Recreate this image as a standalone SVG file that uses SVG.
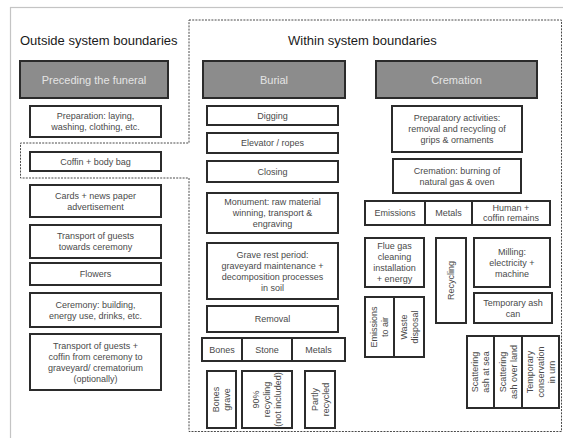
<svg xmlns="http://www.w3.org/2000/svg" width="563" height="438" viewBox="0 0 563 438">
<style>
text{font-family:"Liberation Sans",Arial,sans-serif;}
.t{font-size:9px;fill:#4a4a4a;text-anchor:middle;}
.h{font-size:11px;fill:#e4e4e4;text-anchor:middle;}
.title{font-size:13px;fill:#1a1a1a;}
.b{fill:#fff;stroke:#2b2b2b;stroke-width:2;}
.g{fill:#8c8c8c;stroke:#2b2b2b;stroke-width:2;}
.d{stroke:#2b2b2b;stroke-width:2;}
.frame{fill:none;stroke:#c4c4c4;stroke-width:1.2;}
.dash{fill:none;stroke:#4a4a4a;stroke-width:1;stroke-dasharray:2 1.2;}
</style>
<rect width="563" height="438" fill="#fff"/>
<rect class="frame" x="10.5" y="7.5" width="560" height="440"/>
<g id="boundaries">
<path class="dash" d="M189,20 H561.5 V431.5 H189 V178 H20.5 V143 H189 Z"/>
<text class="title" x="20" y="45">Outside system boundaries</text>
<text class="title" x="288" y="45">Within system boundaries</text>
</g>
<g id="connectors"></g>
<!-- Outside column -->
<g id="preceding"><rect class="g" x="20" y="61" width="148" height="37"/><text class="h" x="94" y="83.5">Preceding the funeral</text></g>
<g id="preparation"><rect class="b" x="30" y="106" width="131" height="31"/><text class="t" x="95.5" y="119">Preparation: laying,</text><text class="t" x="95.5" y="130">washing, clothing, etc.</text></g>
<g id="coffin"><rect class="b" x="30" y="152" width="131" height="19"/><text class="t" x="95.5" y="164.7">Coffin + body bag</text></g>
<g id="cards"><rect class="b" x="30" y="185" width="131" height="32"/><text class="t" x="95.5" y="198.7">Cards + news paper</text><text class="t" x="95.5" y="209.7">advertisement</text></g>
<g id="transport1"><rect class="b" x="30" y="225" width="131" height="33"/><text class="t" x="95.5" y="239.2">Transport of guests</text><text class="t" x="95.5" y="250.2">towards ceremony</text></g>
<g id="flowers"><rect class="b" x="30" y="263" width="131" height="22"/><text class="t" x="95.5" y="277.2">Flowers</text></g>
<g id="ceremony"><rect class="b" x="30" y="293" width="131" height="34"/><text class="t" x="95.5" y="307.7">Ceremony: building,</text><text class="t" x="95.5" y="318.7">energy use, drinks, etc.</text></g>
<g id="transport2"><rect class="b" x="30" y="334" width="131" height="56"/><text class="t" x="95.5" y="348.7">Transport of guests +</text><text class="t" x="95.5" y="359.7">coffin from ceremony to</text><text class="t" x="95.5" y="370.7">graveyard/ crematorium</text><text class="t" x="95.5" y="381.7">(optionally)</text></g>
<!-- Burial column -->
<g id="burial"><rect class="g" x="203" y="61" width="142" height="37"/><text class="h" x="274" y="83.5">Burial</text></g>
<g id="digging"><rect class="b" x="207" y="106" width="131" height="19"/><text class="t" x="272.5" y="118.7">Digging</text></g>
<g id="elevator"><rect class="b" x="207" y="133" width="131" height="20"/><text class="t" x="272.5" y="146.2">Elevator / ropes</text></g>
<g id="closing"><rect class="b" x="207" y="161" width="131" height="21"/><text class="t" x="272.5" y="174.7">Closing</text></g>
<g id="monument"><rect class="b" x="207" y="193" width="131" height="40"/><text class="t" x="272.5" y="205.2">Monument: raw material</text><text class="t" x="272.5" y="216.2">winning, transport &amp;</text><text class="t" x="272.5" y="227.2">engraving</text></g>
<g id="graverest"><rect class="b" x="207" y="243" width="131" height="56"/><text class="t" x="272.5" y="257.7">Grave rest period:</text><text class="t" x="272.5" y="268.7">graveyard maintenance +</text><text class="t" x="272.5" y="279.7">decomposition processes</text><text class="t" x="272.5" y="290.7">in soil</text></g>
<g id="removal"><rect class="b" x="207" y="306" width="131" height="26"/><text class="t" x="272.5" y="322.2">Removal</text></g>
<g id="removed-materials"><rect class="b" x="202" y="338" width="143" height="23"/><line class="d" x1="242" y1="338" x2="242" y2="361"/><line class="d" x1="292" y1="338" x2="292" y2="361"/><text class="t" x="222" y="352.7">Bones</text><text class="t" x="267" y="352.7">Stone</text><text class="t" x="318.5" y="352.7">Metals</text></g>
<g id="bonesgrave"><rect class="b" x="207" y="371" width="29" height="57"/><g transform="translate(221.5,399.5) rotate(-90)"><text class="t" x="0" y="-2.3">Bones</text><text class="t" x="0" y="8.7">grave</text></g></g>
<g id="stonerecycling"><rect class="b" x="242" y="371" width="50" height="57"/><g transform="translate(267,399.5) rotate(-90)"><text class="t" x="0" y="-7.8">90%</text><text class="t" x="0" y="3.2">recycling</text><text class="t" x="0" y="14.2">(not included)</text></g></g>
<g id="metalrecycled"><rect class="b" x="305" y="371" width="30" height="57"/><g transform="translate(320,399.5) rotate(-90)"><text class="t" x="0" y="-2.3">Partly</text><text class="t" x="0" y="8.7">recycled</text></g></g>
<!-- Cremation column -->
<g id="cremation"><rect class="g" x="376" y="61" width="161" height="37"/><text class="h" x="456.5" y="83.5">Cremation</text></g>
<g id="preparatory"><rect class="b" x="392" y="106" width="130" height="46"/><text class="t" x="457" y="121.2">Preparatory activities:</text><text class="t" x="457" y="132.2">removal and recycling of</text><text class="t" x="457" y="143.2">grips &amp; ornaments</text></g>
<g id="burning"><rect class="b" x="393" y="159" width="128" height="34"/><text class="t" x="457" y="173.7">Cremation: burning of</text><text class="t" x="457" y="184.7">natural gas &amp; oven</text></g>
<g id="outputs"><rect class="b" x="365" y="201" width="185" height="24"/><line class="d" x1="425" y1="201" x2="425" y2="225"/><line class="d" x1="472" y1="201" x2="472" y2="225"/><text class="t" x="395" y="216.2">Emissions</text><text class="t" x="448.5" y="216.2">Metals</text><text class="t" x="511" y="211.2">Human +</text><text class="t" x="511" y="221.2">coffin remains</text></g>
<g id="fluegas"><rect class="b" x="365" y="238" width="59" height="49"/><text class="t" x="394.5" y="249.2">Flue gas</text><text class="t" x="394.5" y="260.2">cleaning</text><text class="t" x="394.5" y="271.2">installation</text><text class="t" x="394.5" y="282.2">+ energy</text></g>
<g id="recycling"><rect class="b" x="436" y="238" width="30" height="85"/><g transform="translate(451,280.5) rotate(-90)"><text class="t" x="0" y="3.2">Recycling</text></g></g>
<g id="milling"><rect class="b" x="474" y="238" width="76" height="49"/><text class="t" x="512" y="254.7">Milling:</text><text class="t" x="512" y="265.7">electricity +</text><text class="t" x="512" y="276.7">machine</text></g>
<g id="ashcan"><rect class="b" x="474" y="293" width="78" height="30"/><text class="t" x="513" y="305.7">Temporary ash</text><text class="t" x="513" y="316.7">can</text></g>
<g id="emissionsdisposal"><rect class="b" x="365" y="297" width="59" height="60"/><line class="d" x1="394" y1="297" x2="394" y2="357"/><g transform="translate(379.5,327) rotate(-90)"><text class="t" x="0" y="-2.3">Emissions</text><text class="t" x="0" y="8.7">to air</text></g><g transform="translate(409,327) rotate(-90)"><text class="t" x="0" y="-2.3">Waste</text><text class="t" x="0" y="8.7">disposal</text></g></g>
<g id="ashdestination"><rect class="b" x="467" y="336" width="92" height="72"/><line class="d" x1="494" y1="336" x2="494" y2="408"/><line class="d" x1="522" y1="336" x2="522" y2="408"/><g transform="translate(480.5,372) rotate(-90)"><text class="t" x="0" y="-2.3">Scattering</text><text class="t" x="0" y="8.7">ash at sea</text></g><g transform="translate(508,372) rotate(-90)"><text class="t" x="0" y="-2.3">Scattering</text><text class="t" x="0" y="8.7">ash over land</text></g><g transform="translate(540.5,372) rotate(-90)"><text class="t" x="0" y="-7.8">Temporary</text><text class="t" x="0" y="3.2">conservation</text><text class="t" x="0" y="14.2">in urn</text></g></g>
</svg>
